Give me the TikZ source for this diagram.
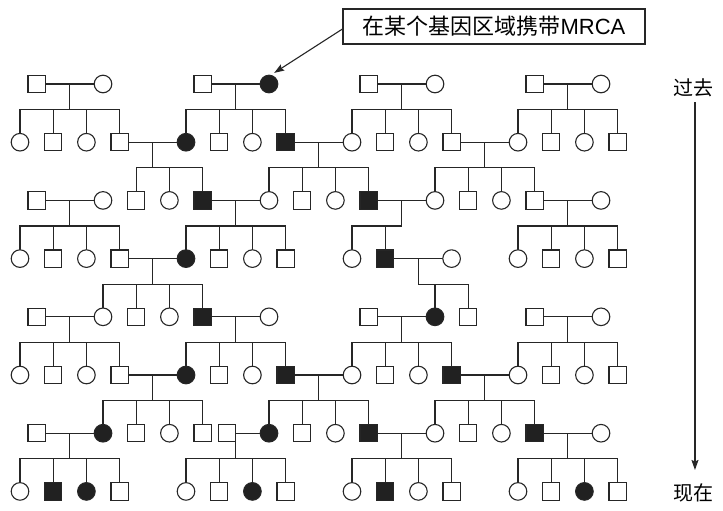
\documentclass[tikz,border=0pt]{standalone}
\usepackage{fontspec}
\newfontfamily\cjk{Noto Sans CJK SC}
\setsansfont{Liberation Sans}
\usetikzlibrary{arrows.meta}
\pgfdeclarelayer{background}
\pgfsetlayers{background,main}
\definecolor{lc}{gray}{0.15}
\definecolor{fc}{gray}{0.13}
\tikzset{
  base/.style={draw=lc, line width=1.1pt, inner sep=0pt},
  sq/.style={base, rectangle, minimum size=17.3pt, fill=white},
  ci/.style={base, circle, minimum size=17.6pt, fill=white},
  fsq/.style={sq, fill=fc},
  fci/.style={ci, fill=fc},
  ln/.style={draw=lc, line width=1.1pt, line cap=rect},
  arr/.style={draw=lc, line width=1.1pt, -{Stealth[length=10pt,width=7pt,inset=1.5pt]}},
  lab/.style={draw=lc, line width=1.1pt, inner sep=0pt, minimum width=302pt, minimum height=35pt,
              font=\fontsize{22pt}{26pt}\selectfont},
  tlab/.style={inner sep=0pt, font=\cjk\fontsize{20pt}{24pt}\selectfont}
}
% #1 name, #2 h of drop, #3 row, #4 left end, #5 right end, #6 children
\newcommand\famly[6]{%
  \coordinate (#1) at (#2,#3);
  \coordinate (#1b) at (#2,#3+0.44);
  \begin{pgfonlayer}{background}
  \draw[ln] (#1) -- (#1b);
  \draw[ln] (#4 |- #1b) -- (#5 |- #1b);
  \foreach \c in {#6} {\draw[ln] (\c |- #1b) -- (\c.center);}
  \end{pgfonlayer}
}
\begin{document}
\begin{tikzpicture}[x=16.6pt,y=-58.2pt]
\begin{pgfonlayer}{background}
\useasboundingbox[fill=white] (-1.2048,-0.4433) rectangle (42.349,8.3196);
\end{pgfonlayer}
% ---------- persons ----------
% row 1
\node[sq] (n1-1) at (1,1) {};  \node[ci] (n1-5) at (5,1) {};
\node[sq] (n1-11) at (11,1) {}; \node[fci] (n1-15) at (15,1) {};
\node[sq] (n1-21) at (21,1) {}; \node[ci] (n1-25) at (25,1) {};
\node[sq] (n1-31) at (31,1) {}; \node[ci] (n1-35) at (35,1) {};
% row 2
\foreach \h/\t in {0/ci,2/sq,4/ci,6/sq,10/fci,12/sq,14/ci,16/fsq,20/ci,22/sq,24/ci,26/sq,30/ci,32/sq,34/ci,36/sq}
  {\node[\t] (n2-\h) at (\h,2) {};}
% row 3
\foreach \h/\t in {1/sq,5/ci,7/sq,9/ci,11/fsq,15/ci,17/sq,19/ci,21/fsq,25/ci,27/sq,29/ci,31/sq,35/ci}
  {\node[\t] (n3-\h) at (\h,3) {};}
% row 4
\foreach \h/\t in {0/ci,2/sq,4/ci,6/sq,10/fci,12/sq,14/ci,16/sq,20/ci,22/fsq,26/ci,30/ci,32/sq,34/ci,36/sq}
  {\node[\t] (n4-\h) at (\h,4) {};}
% row 5
\foreach \h/\t in {1/sq,5/ci,7/sq,9/ci,11/fsq,15/ci,21/sq,25/fci,27/sq,31/sq,35/ci}
  {\node[\t] (n5-\h) at (\h,5) {};}
% row 6
\foreach \h/\t in {0/ci,2/sq,4/ci,6/sq,10/fci,12/sq,14/ci,16/fsq,20/ci,22/sq,24/ci,26/fsq,30/ci,32/sq,34/ci,36/sq}
  {\node[\t] (n6-\h) at (\h,6) {};}
% row 7
\foreach \h/\t in {1/sq,5/fci,7/sq,9/ci,11/sq,15/fci,17/sq,19/ci,21/fsq,25/ci,27/sq,29/ci,31/fsq,35/ci}
  {\node[\t] (n7-\h) at (\h,7) {};}
\node[sq, xshift=-8.7pt] (n7-x) at (13,7) {};
% row 8
\foreach \h/\t in {0/ci,2/fsq,4/fci,6/sq,10/ci,12/sq,14/fci,16/sq,20/ci,22/fsq,24/ci,26/sq,30/ci,32/sq,34/fci,36/sq}
  {\node[\t] (n8-\h) at (\h,8) {};}
% ---------- marriages ----------
\begin{pgfonlayer}{background}
\foreach \a/\b in {n1-1/n1-5,n1-11/n1-15,n1-21/n1-25,n1-31/n1-35,
                   n2-6/n2-10,n2-16/n2-20,n2-26/n2-30,
                   n3-1/n3-5,n3-11/n3-15,n3-21/n3-25,n3-31/n3-35,
                   n4-6/n4-10,n4-22/n4-26,
                   n5-1/n5-5,n5-11/n5-15,n5-21/n5-25,n5-31/n5-35,
                   n6-6/n6-10,n6-16/n6-20,n6-26/n6-30,
                   n7-1/n7-5,n7-x/n7-15,n7-21/n7-25,n7-31/n7-35}
  {\draw[ln] (\a.center) -- (\b.center);}
\end{pgfonlayer}
% ---------- descent ----------
\famly{d1a}{3}{1}{n2-0}{n2-6}{n2-0,n2-2,n2-4,n2-6}
\famly{d1b}{13}{1}{n2-10}{n2-16}{n2-10,n2-12,n2-14,n2-16}
\famly{d1c}{23}{1}{n2-20}{n2-26}{n2-20,n2-22,n2-24,n2-26}
\famly{d1d}{33}{1}{n2-30}{n2-36}{n2-30,n2-32,n2-34,n2-36}
\famly{d2a}{8}{2}{n3-7}{n3-11}{n3-7,n3-9,n3-11}
\famly{d2b}{18}{2}{n3-15}{n3-21}{n3-15,n3-17,n3-19,n3-21}
\famly{d2c}{28}{2}{n3-25}{n3-31}{n3-25,n3-27,n3-29,n3-31}
\famly{d3a}{3}{3}{n4-0}{n4-6}{n4-0,n4-2,n4-4,n4-6}
\famly{d3b}{13}{3}{n4-10}{n4-16}{n4-10,n4-12,n4-14,n4-16}
\famly{d3c}{23}{3}{n4-20}{d3c}{n4-20,n4-22}
\famly{d3d}{33}{3}{n4-30}{n4-36}{n4-30,n4-32,n4-34,n4-36}
\famly{d4a}{8}{4}{n5-5}{n5-11}{n5-5,n5-7,n5-9,n5-11}
\famly{d4b}{24}{4}{d4b}{n5-27}{n5-25,n5-27}
\famly{d5a}{3}{5}{n6-0}{n6-6}{n6-0,n6-2,n6-4,n6-6}
\famly{d5b}{13}{5}{n6-10}{n6-16}{n6-10,n6-12,n6-14,n6-16}
\famly{d5c}{23}{5}{n6-20}{n6-26}{n6-20,n6-22,n6-24,n6-26}
\famly{d5d}{33}{5}{n6-30}{n6-36}{n6-30,n6-32,n6-34,n6-36}
\famly{d6a}{8}{6}{n7-5}{n7-11}{n7-5,n7-7,n7-9,n7-11}
\famly{d6b}{18}{6}{n7-15}{n7-21}{n7-15,n7-17,n7-19,n7-21}
\famly{d6c}{28}{6}{n7-25}{n7-31}{n7-25,n7-27,n7-29,n7-31}
\famly{d7a}{3}{7}{n8-0}{n8-6}{n8-0,n8-2,n8-4,n8-6}
\famly{d7b}{13}{7}{n8-10}{n8-16}{n8-10,n8-12,n8-14,n8-16}
\famly{d7c}{23}{7}{n8-20}{n8-26}{n8-20,n8-22,n8-24,n8-26}
\famly{d7d}{33}{7}{n8-30}{n8-36}{n8-30,n8-32,n8-34,n8-36}
% ---------- labels ----------
\node[lab, fill=white] (mrca) at (28.554,0.012) {{\cjk 在某个基因区域携带}{\sffamily MRCA}};
\draw[arr] ([yshift=-2.5pt]mrca.west) -- ([shift={(0.5pt,3pt)}]n1-15.60);
\node[tlab] (past) at (40.60,1.069) {过去};
\node[tlab] (now) at (40.60,8.027) {现在};
\draw[arr] ([xshift=1pt,yshift=-14pt]past.center) -- ([xshift=1pt,yshift=23pt]now.center);
\end{tikzpicture}
\end{document}
